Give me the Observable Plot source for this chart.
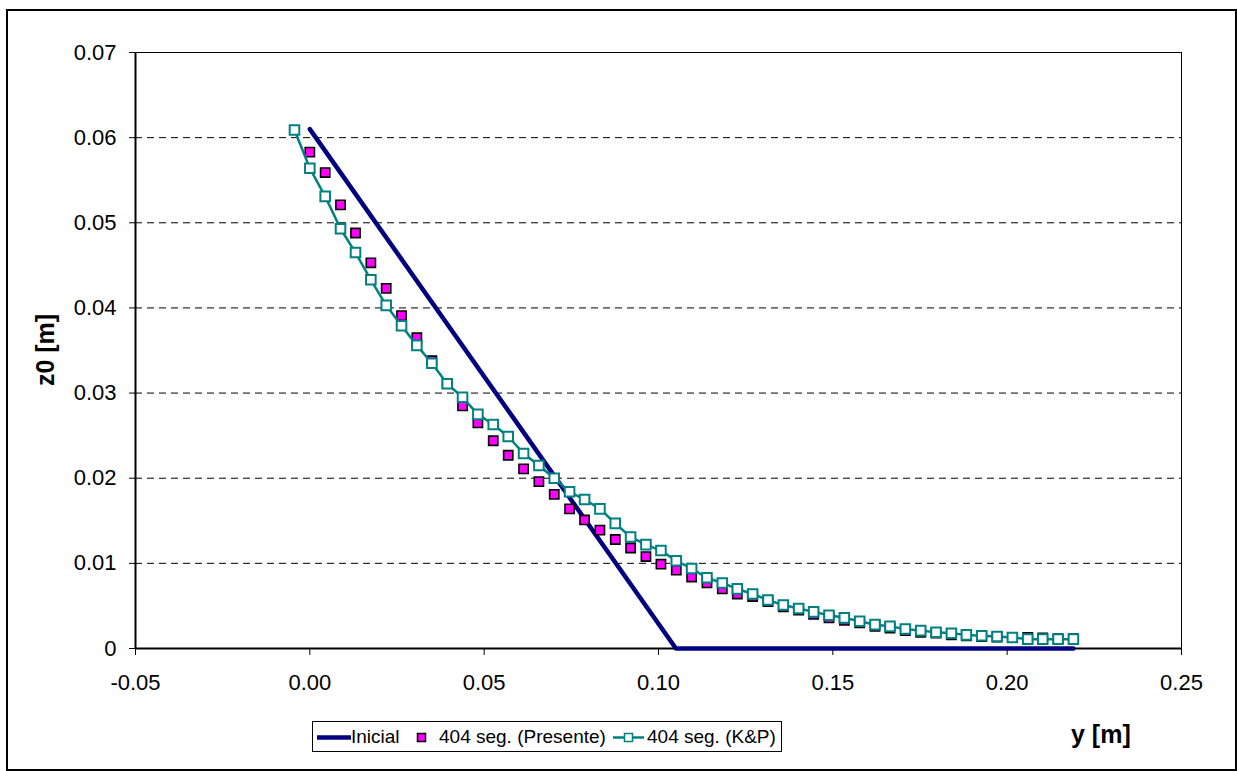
<!DOCTYPE html>
<html>
<head>
<meta charset="utf-8">
<script src="https://cdn.jsdelivr.net/npm/d3@7"></script>
<script src="https://cdn.jsdelivr.net/npm/@observablehq/plot@0.6"></script>
<style>
  body { margin: 0; background: #fff; font-family: "Liberation Sans", Arial, sans-serif; }
  #wrap { position: relative; width: 1237px; height: 771px; overflow: hidden; background: #fff; }
  #wrap svg { position: absolute; left: 0; top: 0; }
  #border { position: absolute; left: 6px; top: 9px; width: 1231px; height: 762px; border: 2px solid #000; box-sizing: border-box; pointer-events: none; }
  .axlabel { position: absolute; font-weight: bold; font-size: 25px; line-height: 1; white-space: nowrap; color: #000; }
  #ylab { left: 45px; top: 350px; transform: translate(-50%, -50%) rotate(-90deg); }
  #xlab { left: 1071px; top: 722px; }
  #legend { position: absolute; left: 312px; top: 721px; width: 470px; height: 31px; border: 1px solid #000; box-sizing: border-box; font-size: 19px; }
  #legend span { position: absolute; top: 3px; line-height: 24px; white-space: nowrap; }
  #legend svg { position: absolute; top: 0; }
</style>
</head>
<body>
<div id="wrap"></div>
<script>
// ---- data ----
const xTicks = [-0.05, 0.00, 0.05, 0.10, 0.15, 0.20, 0.25];
const yTicks = [0, 0.01, 0.02, 0.03, 0.04, 0.05, 0.06, 0.07];
const gridLevels = [0.01, 0.02, 0.03, 0.04, 0.05, 0.06, 0.07];

// Inicial
const inicialY = [0.000, 0.105, 0.219];
const inicialZ = [0.061, 0.000, 0.000];

// 404 seg. (Presente)
const presenteY = [0.0000, 0.0044, 0.0088, 0.0131, 0.0175, 0.0219, 0.0263, 0.0307, 0.0350, 0.0394,
  0.0438, 0.0482, 0.0526, 0.0569, 0.0613, 0.0657, 0.0701, 0.0745, 0.0788, 0.0832,
  0.0876, 0.0920, 0.0964, 0.1007, 0.1051, 0.1095, 0.1139, 0.1183, 0.1226, 0.1270,
  0.1314, 0.1358, 0.1402, 0.1445, 0.1489, 0.1533, 0.1577, 0.1621, 0.1664, 0.1708,
  0.1752, 0.1796, 0.1840, 0.1883, 0.1927, 0.1971, 0.2015, 0.2059, 0.2102, 0.2146, 0.2190];
const presenteZ = [0.0583, 0.0559, 0.0521, 0.0488, 0.0453, 0.0423, 0.0391, 0.0365, 0.0338, 0.0311,
  0.0285, 0.0265, 0.0244, 0.0227, 0.0211, 0.0196, 0.0181, 0.0164, 0.0151, 0.0139,
  0.0128, 0.0118, 0.0108, 0.0099, 0.0092, 0.0084, 0.0077, 0.0070, 0.0064, 0.0061,
  0.0055, 0.0049, 0.0045, 0.0040, 0.0036, 0.0033, 0.0030, 0.0026, 0.0024, 0.0021,
  0.0019, 0.0018, 0.0016, 0.0015, 0.0014, 0.00135, 0.0013, 0.0013, 0.00123, 0.00117, 0.00117];

// 404 seg. (K&P)
const kpY = [-0.0044, 0.0000, 0.0044, 0.0088, 0.0131, 0.0175, 0.0219, 0.0263, 0.0307, 0.0350, 0.0394,
  0.0438, 0.0482, 0.0526, 0.0569, 0.0613, 0.0657, 0.0701, 0.0745, 0.0788, 0.0832,
  0.0876, 0.0920, 0.0964, 0.1007, 0.1051, 0.1095, 0.1139, 0.1183, 0.1226, 0.1270,
  0.1314, 0.1358, 0.1402, 0.1445, 0.1489, 0.1533, 0.1577, 0.1621, 0.1664, 0.1708,
  0.1752, 0.1796, 0.1840, 0.1883, 0.1927, 0.1971, 0.2015, 0.2059, 0.2102, 0.2146, 0.2190];
const kpZ = [0.0609, 0.0564, 0.0531, 0.0493, 0.0465, 0.0433, 0.0403, 0.0379, 0.0356, 0.0335, 0.0311,
  0.0295, 0.0275, 0.0263, 0.0249, 0.0229, 0.0215, 0.0200, 0.0184, 0.0175, 0.0164,
  0.0147, 0.0131, 0.0122, 0.0115, 0.0103, 0.0094, 0.0083, 0.0077, 0.0070, 0.0064,
  0.0057, 0.0051, 0.0047, 0.0043, 0.0039, 0.0036, 0.0032, 0.0028, 0.0026, 0.0023,
  0.0021, 0.0019, 0.0018, 0.0016, 0.0015, 0.0014, 0.0013, 0.0011, 0.0011, 0.0011, 0.0011];

const seriesNames = ["Inicial", "404 seg. (Presente)", "404 seg. (K&P)"];
const colors = { inicial: "#000080", presente: "#FF00FF", kp: "#008080" };

// ---- build tables ----
const inicial = inicialY.map((y, i) => ({ y, z: inicialZ[i] }));
const presente = presenteY.map((y, i) => ({ y, z: presenteZ[i] }));
const kp = kpY.map((y, i) => ({ y, z: kpZ[i] }));

const fmtX = d => d.toFixed(2);
const fmtY = d => d === 0 ? "0" : d.toFixed(2);

const chart = Plot.plot({
  width: 1237,
  height: 771,
  marginLeft: 135,
  marginRight: 56,
  marginTop: 52,
  marginBottom: 123,
  style: { fontFamily: "'Liberation Sans', Arial, sans-serif", background: "transparent", color: "#000" },
  x: { domain: [-0.05, 0.25] },
  y: { domain: [0, 0.07] },
  marks: [
    Plot.ruleY(gridLevels, { stroke: "#000", strokeWidth: 1, strokeDasharray: "7,5" }),
    Plot.frame({ stroke: "#000", strokeWidth: 1 }),
    Plot.axisX({ ticks: xTicks, tickFormat: fmtX, tickSize: 7, tickPadding: 19, fontSize: 22, label: null, stroke: "#000" }),
    Plot.axisY({ ticks: yTicks, tickFormat: fmtY, tickSize: 6, tickPadding: 13, fontSize: 22, label: null, stroke: "#000" }),
    Plot.ruleX([-0.05], { stroke: "#000", strokeWidth: 2 }),
    Plot.ruleY([0], { stroke: "#000", strokeWidth: 2 }),
    Plot.line(inicial, { x: "y", y: "z", stroke: colors.inicial, strokeWidth: 4.5 }),
    Plot.dot(presente, { x: "y", y: "z", symbol: "square", r: 5.2, fill: colors.presente, stroke: "#000", strokeWidth: 1.6 }),
    Plot.line(kp, { x: "y", y: "z", stroke: colors.kp, strokeWidth: 2.5 }),
    Plot.dot(kp, { x: "y", y: "z", symbol: "square", r: 5.4, fill: "#fff", stroke: colors.kp, strokeWidth: 2 })
  ]
});

const wrap = document.getElementById("wrap");
wrap.appendChild(chart);

const ylab = document.createElement("div");
ylab.className = "axlabel"; ylab.id = "ylab"; ylab.textContent = "z0 [m]";
wrap.appendChild(ylab);
const xlab = document.createElement("div");
xlab.className = "axlabel"; xlab.id = "xlab"; xlab.textContent = "y [m]";
wrap.appendChild(xlab);

// legend
const legend = document.createElement("div");
legend.id = "legend";
legend.innerHTML = `
  <svg width="40" height="29" style="left:3px"><line x1="1" x2="35" y1="15.5" y2="15.5" stroke="${colors.inicial}" stroke-width="4.5"/></svg>
  <span style="left:38px">${seriesNames[0]}</span>
  <svg width="20" height="29" style="left:100px"><rect x="4.5" y="11.5" width="8" height="8" fill="${colors.presente}" stroke="#000" stroke-width="1.5"/></svg>
  <span style="left:126px">${seriesNames[1]}</span>
  <svg width="40" height="29" style="left:298px"><line x1="2" x2="33" y1="15.5" y2="15.5" stroke="${colors.kp}" stroke-width="2.5"/><rect x="13.5" y="11.5" width="8" height="8" fill="#fff" stroke="${colors.kp}" stroke-width="1.5"/></svg>
  <span style="left:334px">${seriesNames[2]}</span>`;
wrap.appendChild(legend);

const border = document.createElement("div");
border.id = "border";
wrap.appendChild(border);
</script>
</body>
</html>
